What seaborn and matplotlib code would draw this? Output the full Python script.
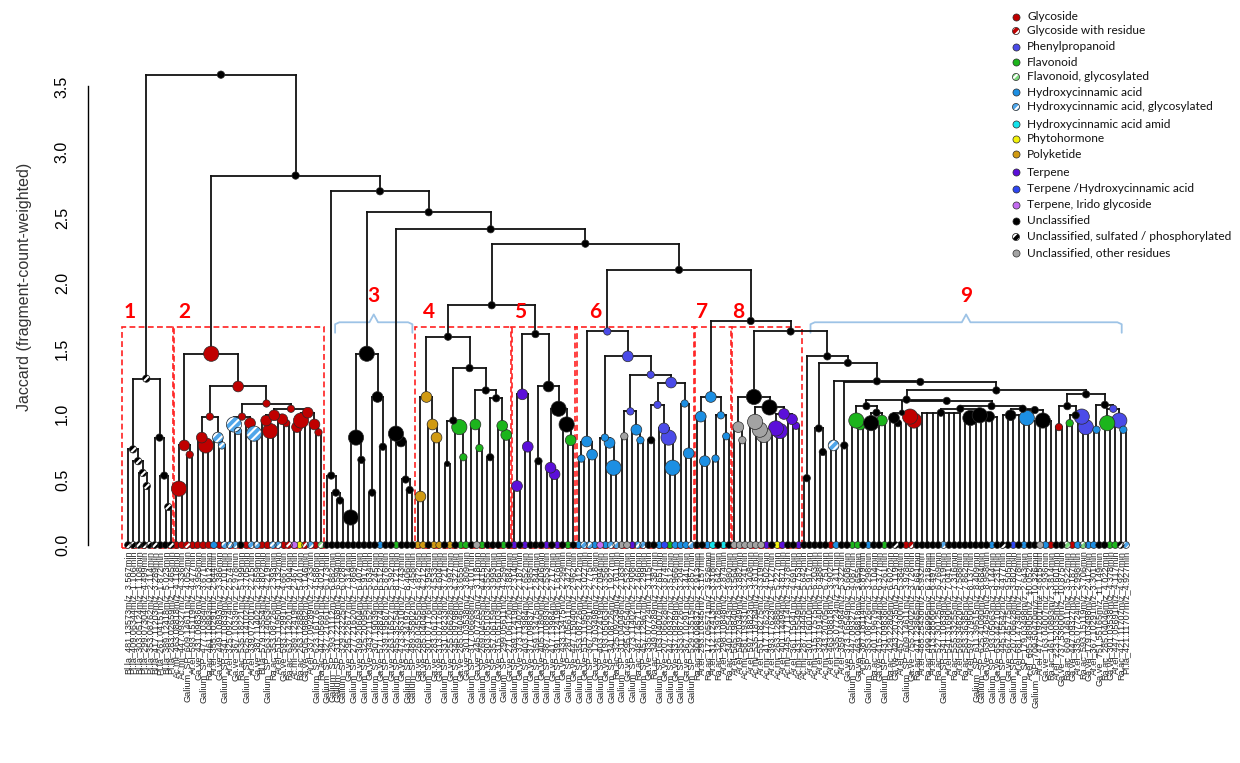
import matplotlib
matplotlib.use("Agg")
import matplotlib.pyplot as plt
from matplotlib.collections import LineCollection
from matplotlib.patches import Rectangle
import seaborn as sns
import numpy as np
import pandas as pd

# ---------------- classes ----------------
class_codes = ['G', 'Gr', 'P', 'F', 'Fg', 'H', 'Hg', 'Ha', 'Ph', 'Pk', 'T', 'TH', 'Ti', 'U', 'Us', 'Uo']
class_names = ['Glycoside', 'Glycoside with residue', 'Phenylpropanoid', 'Flavonoid',
               'Flavonoid, glycosylated', 'Hydroxycinnamic acid',
               'Hydroxycinnamic acid, glycosylated', 'Hydroxycinnamic acid amid',
               'Phytohormone', 'Polyketide', 'Terpene', 'Terpene /Hydroxycinnamic acid',
               'Terpene, Irido glycoside', 'Unclassified',
               'Unclassified, sulfated / phosphorylated', 'Unclassified, other residues']
class_colors = ['#C00000', '#C00000', '#4B4BE8', '#1CB51C', '#7ED87E', '#1C8FE3',
                '#4FA6EA', '#14E4EC', '#F2F20A', '#D09A12', '#5B0FD9', '#2E46F2',
                '#C36BF0', '#000000', '#000000', '#A3A3A3']
striped_codes = ['Gr', 'Fg', 'Hg', 'Us']

# ---------------- tree data: (height, class, dot size, children...) ; 0 = leaf ----------------
c1 = (1.27, 'Us', 2,
      (0.73, 'Us', 2, 0, (0.64, 'Us', 2, 0, (0.55, 'Us', 2, 0, (0.45, 'Us', 2, 0, 0)))),
      (0.82, 'U', 2, 0, (0.53, 'U', 2, 0, (0.29, 'Us', 2, 0, 0))))

c2 = (1.46, 'G', 4,
      (0.76, 'G', 3, (0.43, 'G', 4, 0, 0), (0.69, 'G', 2, 0, 0)),
      (1.21, 'G', 3,
       (0.98, 'G', 2,
        (0.82, 'G', 3, 0, (0.76, 'G', 4, 0, 0)),
        (0.82, 'Hg', 3, 0, (0.76, 'Hg', 2, 0, 0))),
       (1.08, 'G', 2,
        (0.98, 'G', 2,
         (0.92, 'Hg', 4, 0, (0.87, 'Hg', 2, 0, 0)),
         (0.93, 'G', 3, 0, (0.85, 'Hg', 4, 0, 0))),
        (1.04, 'G', 2,
         (0.99, 'G', 3,
          (0.95, 'G', 3, 0, (0.87, 'G', 4, 0, 0)),
          (0.96, 'G', 3, 0, (0.93, 'G', 2, 0, 0))),
         (1.01, 'G', 3,
          (0.95, 'G', 4, (0.90, 'G', 3, 0, 0), 0),
          (0.92, 'G', 3, 0, (0.86, 'G', 2, 0, 0)))))))

c3a = (0.53, 'U', 2, 0, (0.40, 'U', 2, 0, (0.34, 'U', 2, 0, 0)))
c3b = (1.46, 'U', 4,
       (0.82, 'U', 4, (0.21, 'U', 4, 0, 0), (0.65, 'U', 2, 0, 0)),
       (1.13, 'U', 3, (0.40, 'U', 2, 0, 0), (0.75, 'U', 2, 0, 0)))
c3c = (0.85, 'U', 4, 0, (0.79, 'U', 3, 0, (0.50, 'U', 2, 0, (0.42, 'U', 2, 0, 0))))

c4 = (1.59, 'U', 2,
      (1.13, 'Pk', 3, (0.37, 'Pk', 3, 0, 0), (0.92, 'Pk', 3, 0, (0.82, 'Pk', 3, 0, 0))),
      (1.35, 'U', 2,
       (0.95, 'U', 2, (0.62, 'U', 1, 0, 0), (0.90, 'F', 4, 0, (0.67, 'F', 2, 0, 0))),
       (1.18, 'U', 2,
        (0.92, 'F', 3, 0, (0.74, 'F', 2, 0, 0)),
        (1.12, 'U', 2, (0.67, 'U', 2, 0, 0), (0.91, 'F', 3, 0, (0.84, 'F', 3, 0, 0))))))

c5 = (1.61, 'U', 2,
      (1.15, 'T', 3, (0.45, 'T', 3, 0, 0), (0.75, 'T', 3, 0, 0)),
      (1.21, 'U', 3,
       (0.64, 'U', 2, 0, 0),
       (1.04, 'U', 4,
        (0.59, 'T', 3, 0, (0.54, 'T', 3, 0, 0)),
        (0.92, 'U', 4, 0, (0.80, 'F', 3, 0, 0)))))

c6 = (1.63, 'P', 2,
      (0.79, 'H', 3, (0.66, 'H', 2, 0, 0), (0.69, 'H', 3, 0, 0)),
      (1.44, 'P', 3,
       (0.82, 'H', 2, 0, (0.78, 'H', 3, 0, (0.59, 'H', 4, 0, 0))),
       (1.30, 'P', 2,
        (1.02, 'P', 2,
         (0.83, 'Uo', 2, 0, 0),
         (0.88, 'H', 3, 0, (0.80, 'H', 2, 0, 0))),
        (1.24, 'P', 3,
         (1.07, 'P', 2,
          (0.80, 'U', 2, 0, 0),
          (0.89, 'P', 3, 0, (0.82, 'P', 4, 0, (0.59, 'H', 4, 0, 0)))),
         (1.08, 'H', 2, 0, (0.70, 'H', 3, 0, 0))))))

c7 = (1.13, 'H', 3,
      (0.98, 'H', 3, 0, (0.64, 'H', 3, 0, 0)),
      (0.99, 'H', 2, (0.66, 'H', 2, 0, 0), (0.83, 'H', 2, 0, 0)))

c8 = (1.13, 'U', 4,
      (0.90, 'Uo', 3, 0, (0.80, 'Uo', 2, 0, 0)),
      (1.05, 'U', 4,
       (0.94, 'Uo', 4, 0, (0.88, 'Uo', 4, 0, (0.84, 'Uo', 4, 0, 0))),
       (1.00, 'T', 3,
        (0.89, 'T', 4, 0, (0.87, 'T', 4, 0, 0)),
        (0.96, 'T', 3, 0, (0.91, 'T', 2, 0, 0)))))

c9 = (1.44, 'U', 2,
      (0.51, 'U', 2, 0, 0),
      (1.39, 'U', 2,
       (0.89, 'U', 2, 0, (0.71, 'U', 2, 0, 0)),
       (1.25, 'U', 2,
        (0.76, 'Hg', 3, 0, 0),
        (1.245, 'U', 2,
         (0.76, 'U', 2, 0, 0),
         (1.18, 'U', 2,
          (1.11, 'U', 2,
           (1.06, 'U', 2,
            (0.95, 'F', 4, 0, (0.92, 'F', 3, 0, 0)),
            (1.01, 'U', 2, (0.93, 'U', 4, 0, 0), (0.95, 'F', 3, 0, 0))),
           (1.10, 'U', 2,
            (1.01, 'U', 1,
             (0.97, 'U', 3, 0, (0.93, 'U', 2, 0, 0)),
             (0.98, 'G', 4, 0, (0.95, 'G', 4, 0, 0))),
            (1.06, 'U', 2,
             (1.04, 'U', 2,
              (1.01, 'U', 2, 0, 0, 0, 0, 0, 0, 0, 0),
              (0.99, 'U', 4, (0.97, 'U', 4, 0, 0, 0), (0.98, 'U', 3, 0, 0, 0, 0))),
             (1.04, 'U', 2,
              (0.99, 'U', 3, 0, 0, 0, 0),
              (1.03, 'U', 2, (0.97, 'H', 4, 0, 0), (0.95, 'U', 4, 0, 0, 0, 0)))))),
          (1.15, 'U', 2,
           (1.06, 'U', 2,
            (0.90, 'G', 2, 0, 0),
            (0.99, 'U', 2, (0.93, 'F', 2, 0, 0), (0.98, 'P', 4, 0, (0.90, 'P', 4, 0, 0)))),
           (1.07, 'U', 2,
            (0.88, 'H', 2, 0, 0),
            (1.04, 'P', 2, (0.93, 'F', 4, 0, 0), (0.95, 'P', 4, 0, (0.88, 'H', 2, 0, 0))))))))))

root = (3.59, 'U', 2, c1,
        (2.82, 'U', 2, c2,
         (2.70, 'U', 2, c3a,
          (2.54, 'U', 2, c3b,
           (2.41, 'U', 2, c3c,
            (2.30, 'U', 2,
             (1.83, 'U', 2, c4, c5),
             (2.10, 'U', 2, c6,
              (1.71, 'U', 2, c7,
               (1.63, 'U', 2, c8, c9)))))))))

# ---------------- leaf classes ----------------
leaf_c1 = ['Us', 'Us', 'Us', 'Us', 'Us', 'Us', 'U', 'U', 'Us']
leaf_c2 = ['G', 'G', 'Gr', 'G', 'G', 'G', 'G', 'H', 'G', 'Hg', 'Hg', 'Hg', 'U', 'G', 'Hg', 'Hg',
           'G', 'G', 'Hg', 'Hg', 'G', 'Gr', 'Ti', 'Ph', 'Gr', 'Hg', 'G', 'Fg']
leaf_c3 = ['U', 'U', 'U', 'U', 'U', 'U', 'U', 'U', 'U', 'U', 'H', 'U', 'U', 'F', 'U', 'U', 'U']
leaf_c4 = ['Pk', 'Pk', 'U', 'Pk', 'Pk', 'U', 'Pk', 'U', 'F', 'F', 'U', 'Uo', 'F', 'U', 'U', 'U', 'F', 'U']
leaf_c5 = ['T', 'U', 'T', 'U', 'U', 'U', 'T', 'U', 'T', 'U', 'F', 'U']
leaf_c6 = ['H', 'Hg', 'Hg', 'H', 'Ti', 'H', 'Hg', 'Hg', 'Uo', 'Uo', 'T', 'Hg', 'Hg', 'U', 'U', 'H',
           'TH', 'F', 'H', 'H', 'H', 'Hg']
leaf_c7 = ['U', 'U', 'H', 'Ha', 'U', 'Ha', 'U']
leaf_c8 = ['Uo', 'Uo', 'Uo', 'Uo', 'Uo', 'Uo', 'T', 'U', 'Ph', 'T', 'U', 'U', 'T']
leaf_c9 = ['U', 'U', 'U', 'U', 'U', 'G', 'H', 'U', 'U', 'F', 'F', 'U', 'H', 'U', 'U', 'F', 'U', 'Us',
           'U', 'G', 'Gr', 'U', 'U', 'U', 'U', 'U', 'Hg', 'U', 'U', 'U', 'U', 'U', 'U', 'U', 'U',
           'H', 'U', 'Us', 'U', 'TH', 'U', 'H', 'U', 'U', 'Uo', 'H', 'G', 'U', 'U', 'Fg', 'G', 'H',
           'Fg', 'H', 'H', 'U', 'U', 'F', 'F', 'Us', 'Hg']

# ---------------- leaf labels ----------------
labels_c1 = ['Bl.la_481.13573m/z_3.567min', 'Pl.la_409.06344m/z_1.106min', 'Bl.la_303.05124m/z_1.108min',
             'Pl.la_299.07304m/z_4.499min', 'Pl.la_353.08762m/z_2.114min', 'Bl.la_417.11203m/z_3.289min',
             'Pl.la_261.04151m/z_1.872min', 'Bl.la_389.12418m/z_5.023min', 'Pl.la_283.02659m/z_1.465min']
labels_c2 = ['Ac.mi_463.08818m/z_4.118min', 'Ac.mi_447.09327m/z_4.336min', 'Galium_SP_609.14611m/z_4.052min',
             'Ar.el_593.15119m/z_4.477min', 'Ga.ve_431.09836m/z_3.958min', 'Galium_SP_477.10384m/z_3.671min',
             'Ra.ac_461.10893m/z_4.012min', 'Ar.el_355.10291m/z_2.844min', 'Ga.ve_449.10893m/z_3.386min',
             'Galium_SP_341.10839m/z_2.101min', 'Ar.el_325.09274m/z_2.574min', 'Ga.ve_367.10339m/z_2.978min',
             'Ra.ac_535.18221m/z_5.199min', 'Galium_SP_625.14102m/z_3.705min', 'Ar.el_339.07201m/z_2.215min',
             'Ga.ve_387.11402m/z_2.659min', 'Bl.la_579.13554m/z_4.802min', 'Galium_SP_563.14063m/z_4.219min',
             'Ra.ac_353.08726m/z_2.393min', 'Ar.el_515.11950m/z_4.132min', 'Ga.ve_593.12991m/z_4.667min',
             'Ra.ac_637.14201m/z_4.904min', 'Ac.mi_389.12419m/z_2.467min', 'Ra.ac_263.12888m/z_5.401min',
             'Ga.ve_505.09882m/z_3.146min', 'Ar.el_337.09289m/z_2.733min', 'Galium_SP_623.16176m/z_4.588min',
             'Ra.ac_447.05691m/z_4.021min']
labels_c3 = ['Galium_SP_327.21661m/z_6.173min', 'Galium_SP_293.21112m/z_6.882min', 'Galium_SP_311.22168m/z_6.594min',
             'Galium_SP_329.23225m/z_6.028min', 'Ga.ve_295.22677m/z_7.314min', 'Galium_SP_277.21620m/z_7.869min',
             'Ga.ve_309.20604m/z_6.407min', 'Galium_SP_325.20095m/z_5.917min', 'Ga.ve_343.21152m/z_5.634min',
             'Galium_SP_307.19039m/z_6.245min', 'Ga.ve_571.28874m/z_6.512min', 'Galium_SP_339.19587m/z_5.876min',
             'Ga.ve_263.16527m/z_5.392min', 'Galium_SP_455.35254m/z_8.121min', 'Ga.ve_473.36310m/z_7.743min',
             'Galium_SP_437.34197m/z_8.406min', 'Galium_SP_489.35802m/z_7.458min']
labels_c4 = ['Ga.ve_269.04555m/z_4.872min', 'Ga.ve_285.04046m/z_4.212min', 'Galium_SP_301.07176m/z_3.954min',
             'Ga.ve_283.06120m/z_4.533min', 'Ga.ve_313.07176m/z_4.604min', 'Galium_SP_331.08233m/z_3.721min',
             'Ga.ve_255.06628m/z_3.997min', 'Galium_SP_345.09798m/z_4.327min', 'Ga.ve_285.04046m/z_3.655min',
             'Ga.ve_301.03538m/z_3.809min', 'Galium_SP_317.06668m/z_4.101min', 'Ga.ve_445.07763m/z_3.118min',
             'Galium_SP_269.04555m/z_4.415min', 'Ga.ve_303.05103m/z_3.552min', 'Galium_SP_357.06159m/z_3.993min',
             'Ga.ve_315.05103m/z_4.661min', 'Galium_SP_299.05611m/z_4.259min', 'Ga.ve_271.06120m/z_3.884min']
labels_c5 = ['Galium_SP_389.12419m/z_2.314min', 'Ga.ve_373.11402m/z_2.187min', 'Galium_SP_403.13984m/z_2.652min',
             'Ga.ve_371.09837m/z_1.985min', 'Galium_SP_359.13475m/z_2.844min', 'Ga.ve_405.11890m/z_2.406min',
             'Galium_SP_387.10893m/z_2.553min', 'Ga.ve_417.13984m/z_2.717min', 'Galium_SP_391.12419m/z_1.876min',
             'Ga.ve_433.13475m/z_2.299min', 'Galium_SP_287.05611m/z_3.427min', 'Ga.ve_447.15040m/z_2.962min']
labels_c6 = ['Galium_SP_353.08726m/z_2.412min', 'Ga.ve_515.11950m/z_3.027min', 'Galium_SP_367.10291m/z_2.775min',
             'Ga.ve_179.03498m/z_2.318min', 'Galium_SP_403.12419m/z_2.094min', 'Ga.ve_193.05063m/z_3.356min',
             'Galium_SP_341.08726m/z_1.927min', 'Ra.ac_325.09234m/z_2.611min', 'Galium_SP_311.04046m/z_2.183min',
             'Ga.ve_295.04554m/z_2.532min', 'Galium_SP_373.11402m/z_2.908min', 'Ra.ac_487.14571m/z_2.466min',
             'Galium_SP_457.12967m/z_2.299min', 'Ga.ve_335.07724m/z_3.115min', 'Ra.ac_349.09289m/z_3.387min',
             'Galium_SP_163.04007m/z_2.651min', 'Ga.ve_207.06628m/z_3.874min', 'Galium_SP_447.09327m/z_3.512min',
             'Ga.ve_337.09289m/z_2.966min', 'Galium_SP_353.08726m/z_3.204min', 'Ga.ve_367.10291m/z_3.441min',
             'Galium_SP_529.13515m/z_2.857min']
labels_c7 = ['Ra.ac_309.09837m/z_2.913min', 'Ar.el_293.10345m/z_3.157min', 'Ra.ac_177.05571m/z_3.526min',
             'Ar.el_312.12413m/z_3.318min', 'Ra.ac_326.13978m/z_3.642min', 'Ar.el_298.10848m/z_2.874min',
             'Ra.ac_340.15543m/z_3.980min']
labels_c8 = ['Ar.el_565.19840m/z_3.564min', 'Ar.el_549.20349m/z_3.882min', 'Ac.mi_581.19331m/z_3.241min',
             'Ar.el_597.18823m/z_3.408min', 'Ac.mi_535.18784m/z_3.611min', 'Ar.el_551.18275m/z_3.319min',
             'Ac.mi_417.17623m/z_4.502min', 'Ar.el_393.17623m/z_4.127min', 'Ac.mi_263.12888m/z_5.227min',
             'Ar.el_401.14494m/z_4.871min', 'Ac.mi_445.17114m/z_4.378min', 'Ar.el_361.15041m/z_4.691min',
             'Ac.mi_431.15549m/z_4.753min']
labels_c9 = ['Ac.mi_287.14445m/z_5.642min', 'Ar.el_301.16010m/z_5.917min', 'Ac.mi_315.17575m/z_6.203min',
             'Ar.el_329.19140m/z_6.488min', 'Ac.mi_343.20705m/z_6.751min', 'Ar.el_463.08818m/z_3.902min',
             'Ac.mi_335.07724m/z_3.411min', 'Ar.el_359.14984m/z_5.322min', 'Ga.ve_373.16549m/z_5.608min',
             'Galium_SP_447.09327m/z_4.087min', 'Ga.ve_463.08818m/z_3.655min', 'Ar.el_387.18114m/z_5.879min',
             'Galium_SP_353.08726m/z_3.298min', 'Ra.ac_401.19679m/z_6.104min', 'Ga.ve_415.21244m/z_6.377min',
             'Galium_SP_431.09836m/z_4.261min', 'Ra.ac_429.22809m/z_6.602min', 'Ga.ve_443.20735m/z_5.119min',
             'Ar.el_457.22300m/z_5.384min', 'Galium_SP_609.14611m/z_3.978min', 'Ga.ve_755.20402m/z_3.726min',
             'Ra.ac_471.23865m/z_5.661min', 'Ar.el_485.25430m/z_5.932min', 'Ra.ac_499.26995m/z_6.218min',
             'Ar.el_513.28560m/z_6.497min', 'Ra.ac_527.30125m/z_6.769min', 'Galium_SP_341.10839m/z_2.519min',
             'Ar.el_541.31690m/z_7.041min', 'Ra.ac_555.33255m/z_7.316min', 'Ar.el_569.34820m/z_7.588min',
             'Ra.ac_583.36385m/z_7.862min', 'Ar.el_597.37950m/z_8.137min', 'Galium_SP_611.39515m/z_8.409min',
             'Galium_SP_625.41080m/z_8.684min', 'Ga.ve_639.42645m/z_8.958min', 'Galium_SP_193.05063m/z_3.144min',
             'Ga.ve_653.44210m/z_9.231min', 'Galium_SP_445.15642m/z_4.477min', 'Ga.ve_667.45775m/z_9.505min',
             'Galium_SP_207.06628m/z_3.802min', 'Ar.el_681.47340m/z_9.778min', 'Galium_SP_179.03498m/z_2.643min',
             'Ar.el_695.48905m/z_10.052min', 'Galium_SP_709.50470m/z_10.326min', 'Ar.el_477.19201m/z_4.615min',
             'Ga.ve_163.04007m/z_2.936min', 'Ra.ac_461.10893m/z_3.814min', 'Ar.el_723.52035m/z_10.601min',
             'Ga.ve_737.53600m/z_10.875min', 'Ra.ac_609.14611m/z_3.522min', 'Ga.ve_447.09327m/z_3.187min',
             'Ar.el_335.07724m/z_2.998min', 'Ra.ac_593.15119m/z_3.706min', 'Ga.ve_179.03498m/z_2.412min',
             'Ar.el_367.10291m/z_3.301min', 'Ga.ve_751.55165m/z_11.149min', 'Ra.ac_285.04046m/z_4.022min',
             'Ga.ve_301.03538m/z_4.378min', 'Ar.el_447.05691m/z_4.117min', 'Ra.ac_421.11707m/z_4.927min',
             'Pl.la_421.11707m/z_4.927min']

cluster_numbers = ['1', '2', '3', '4', '5', '6', '7', '8', '9']

# ---------------- layout ----------------
W, H = 1240, 763
sns.set_style("white")
plt.rcParams['font.family'] = ['Liberation Sans', 'DejaVu Sans']
plt.rcParams['hatch.linewidth'] = 1.5

leaf_classes = leaf_c1 + leaf_c2 + leaf_c3 + leaf_c4 + leaf_c5 + leaf_c6 + leaf_c7 + leaf_c8 + leaf_c9
leaf_labels = labels_c1 + labels_c2 + labels_c3 + labels_c4 + labels_c5 + labels_c6 + labels_c7 + labels_c8 + labels_c9

segments, node_rows, leaf_x = [], [], []


def place(node):
    if node == 0:
        x = float(len(leaf_x))
        leaf_x.append(x)
        return x, 0.0
    h, cls, size = node[:3]
    xs = []
    for child in node[3:]:
        cx, ch = place(child)
        segments.append([(cx, ch), (cx, h)])
        xs.append(cx)
    segments.append([(min(xs), h), (max(xs), h)])
    x = (min(xs) + max(xs)) / 2.0
    node_rows.append((x, h, cls, size))
    return x, h


def n_leaves(node):
    return 1 if node == 0 else sum(n_leaves(c) for c in node[3:])


place(root)
N = len(leaf_x)
leaf_classes = (leaf_classes + ['U'] * N)[:N]
leaf_labels = (leaf_labels + [''] * N)[:N]

groups = [[c1], [c2], [c3a, c3b, c3c], [c4], [c5], [c6], [c7], [c8], [c9]]
ranges, start = [], 0
for g in groups:
    n = sum(n_leaves(c) for c in g)
    ranges.append((start, start + n - 1))
    start += n

size_map = {1: 16, 2: 28, 3: 60, 4: 120}
nodes = pd.DataFrame(node_rows, columns=['x', 'y', 'cls', 'size'])
nodes['s'] = nodes['size'].map(size_map)
leaves = pd.DataFrame({'x': leaf_x, 'y': 0.0, 'cls': leaf_classes})
leaves['s'] = 24

fig = plt.figure(figsize=(W / 100, H / 100), dpi=100)
px_first, px_last = 128, 1126
spacing = (px_last - px_first) / (N - 1)
ax = fig.add_axes([88 / W, (H - 545) / H, (1135 - 88) / W, (545 - 60) / H])

ax.add_collection(LineCollection(segments, colors='#111111', linewidths=1.3,
                                 capstyle='projecting', zorder=2))

color_of = dict(zip(class_codes, class_colors))


def draw_points(df, z):
    for code in class_codes:
        sub = df[df['cls'] == code]
        if sub.empty:
            continue
        col = color_of[code]
        if code in striped_codes:
            sns.scatterplot(data=sub, x='x', y='y', s=sub['s'].values, color=col,
                            edgecolor='white', hatch='////', linewidth=0, ax=ax,
                            zorder=z, clip_on=False, legend=False)
            ax.scatter(sub['x'], sub['y'], s=sub['s'].values, facecolors='none',
                       edgecolors='#2a2a2a', linewidths=0.5, zorder=z + 0.1, clip_on=False)
        else:
            sns.scatterplot(data=sub, x='x', y='y', s=sub['s'].values, color=col,
                            edgecolor='#2a2a2a', linewidth=0.5, ax=ax,
                            zorder=z, clip_on=False, legend=False)


draw_points(leaves, 3)
draw_points(nodes, 4)

ax.set_xlim((88 - px_first) / spacing, (1135 - px_first) / spacing)
ax.set_ylim(0, 3.702)
for s in ['top', 'right', 'bottom']:
    ax.spines[s].set_visible(False)
ax.spines['left'].set_bounds(0, 3.5)
ax.spines['left'].set_color('black')
ax.spines['left'].set_linewidth(1.0)
yt = np.arange(0, 3.51, 0.5)
ax.set_yticks(yt)
ax.set_yticklabels([f"{v:.1f}" for v in yt], rotation=90, va='center', fontsize=11.5)
ax.tick_params(axis='y', direction='out', length=7, width=1, pad=6, colors='black')
ax.set_xticks(leaf_x)
ax.set_xticklabels(leaf_labels, rotation=90, fontsize=6.6, ha='center', va='top')
ax.tick_params(axis='x', length=0, pad=4)
ax.set_xlabel('')
ax.set_ylabel('')
ax.grid(False)

fig.text(25 / W, 1 - 287 / H, 'Jaccard (fragment-count-weighted)', rotation=90,
         ha='center', va='center', fontsize=11.5, color='#333333')

# red dashed boxes
box_top, box_bot = 1.664, -0.025
box_idx = [0, 1, 3, 4, 5, 6, 7]
num_offset = [0.2, 1.0, 1.6, 0.6, 2.6, 0.5, 0.2]
for k, gi in enumerate(box_idx):
    f, l = ranges[gi]
    left = f - (1.1 if gi == 0 else 0.6)
    right = l + 0.6
    ax.add_patch(Rectangle((left, box_bot), right - left, box_top - box_bot, fill=False,
                           edgecolor='#FF2020', linestyle=(0, (3.5, 2)), linewidth=1.2,
                           clip_on=False, zorder=1.5))
    ax.text(left + num_offset[k], 1.775, cluster_numbers[gi], color='#FF0000',
            fontsize=15, fontweight='bold', family='Lato', ha='left', va='center')

# light blue braces
for gi, (a0, a1) in zip([2, 8], [(1.6, 0.0), (1.2, -0.8)]):
    f, l = ranges[gi]
    x0, x1 = f + a0, l + a1
    c = (x0 + x1) / 2
    d = 0.8
    bx = [x0, x0, x0 + d, c - d, c, c + d, x1 - d, x1, x1]
    by = [1.62, 1.685, 1.70, 1.70, 1.76, 1.70, 1.70, 1.685, 1.62]
    ax.plot(bx, by, color='#9DC3E6', linewidth=1.3, clip_on=False, zorder=1.5)
    ax.text(c, 1.90, cluster_numbers[gi], color='#FF0000', fontsize=15,
            fontweight='bold', family='Lato', ha='center', va='center')

# legend (pixel coordinates overlay)
lax = fig.add_axes([0, 0, 1, 1], facecolor='none')
lax.set_xlim(0, W)
lax.set_ylim(H, 0)
lax.axis('off')
legend_rows = [17, 31, 47, 62, 77, 92, 107, 124, 139, 154, 172, 189, 205, 221, 237, 253]
for code, name, yy in zip(class_codes, class_names, legend_rows):
    col = color_of[code]
    if code in striped_codes:
        lax.scatter([1016], [yy], s=26, color=col, edgecolors='white', hatch='////', linewidths=0)
        lax.scatter([1016], [yy], s=26, facecolors='none', edgecolors='#2a2a2a', linewidths=0.5)
    else:
        lax.scatter([1016], [yy], s=26, color=col, edgecolors='#2a2a2a', linewidths=0.5)
    lax.text(1027, yy, name, fontsize=8.6, family='Lato', va='center', ha='left', color='#111111')

fig.savefig('out.png', dpi=100)
